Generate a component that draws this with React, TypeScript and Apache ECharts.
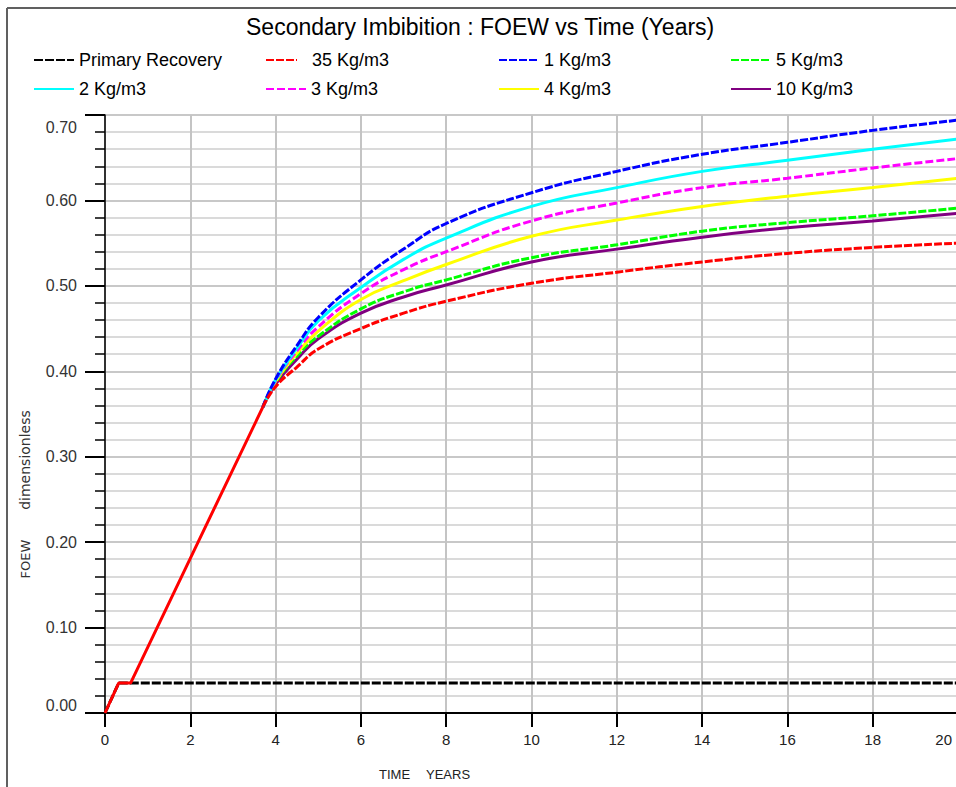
import React, { useEffect, useRef } from "react";
import * as echarts from "echarts";

// ---- data ----
const TITLE = "Secondary Imbibition : FOEW vs Time (Years)";
const X_TICKS = [0, 2, 4, 6, 8, 10, 12, 14, 16, 18, 20];

// shared initial (linear) part, drawn in red for all cases
const BASE_T = [0, 0.32, 0.6, 2, 3.7];
const BASE_V = [0, 0.035, 0.035, 0.181, 0.358];

// primary recovery
const PRIMARY_T = [0, 0.32, 20];
const PRIMARY_V = [0, 0.035, 0.035];

// curves after the break-off point
const CURVE_T = [3.7, 4, 4.5, 5, 6, 7, 8, 10, 12, 14, 16, 18, 20];
const KG1 = [0.358, 0.391, 0.43, 0.463, 0.507, 0.543, 0.573, 0.609, 0.634, 0.654, 0.668, 0.682, 0.694];
const KG2 = [0.358, 0.39, 0.427, 0.459, 0.498, 0.531, 0.556, 0.593, 0.615, 0.634, 0.647, 0.66, 0.672];
const KG3 = [0.358, 0.389, 0.424, 0.452, 0.491, 0.519, 0.54, 0.576, 0.597, 0.615, 0.626, 0.638, 0.649];
const KG4 = [0.358, 0.388, 0.421, 0.447, 0.484, 0.506, 0.525, 0.558, 0.577, 0.593, 0.605, 0.615, 0.626];
const KG5 = [0.358, 0.387, 0.418, 0.441, 0.473, 0.493, 0.507, 0.533, 0.548, 0.564, 0.574, 0.582, 0.591];
const KG10 = [0.358, 0.385, 0.414, 0.438, 0.468, 0.487, 0.501, 0.528, 0.543, 0.557, 0.568, 0.576, 0.585];
const KG35 = [0.358, 0.382, 0.405, 0.426, 0.45, 0.468, 0.482, 0.503, 0.516, 0.528, 0.538, 0.545, 0.55];

const LEGEND_ORDER = [
  "Primary Recovery",
  "35 Kg/m3",
  "1 Kg/m3",
  "5 Kg/m3",
  "2 Kg/m3",
  "3 Kg/m3",
  "4 Kg/m3",
  "10 Kg/m3",
];

const FONT = "'Liberation Sans', Arial, Helvetica, sans-serif";
const NAME_FONT = "'DejaVu Sans', Verdana, sans-serif";

const zip = (xs: number[], ys: number[]) => xs.map((x, i) => [x, ys[i]]);

export default function App() {
  const ref = useRef<HTMLDivElement>(null);

  useEffect(() => {
    if (!ref.current) return;
    const chart = echarts.init(ref.current, undefined, { renderer: "svg" });

    const curve = (name: string, vals: number[], color: string, dash: any) => ({
      name,
      type: "line",
      data: zip(CURVE_T, vals),
      smooth: 0.5,
      symbol: "none",
      showSymbol: false,
      lineStyle: { color, width: 3, type: dash },
      itemStyle: { color },
    });

    const series: any[] = [
      {
        name: "Primary Recovery",
        type: "line",
        data: zip(PRIMARY_T, PRIMARY_V),
        symbol: "none",
        lineStyle: { color: "#000000", width: 3, type: [9, 2] },
        itemStyle: { color: "#000000" },
      },
      curve("10 Kg/m3", KG10, "#800080", "solid"),
      curve("5 Kg/m3", KG5, "#00ff00", [8, 2]),
      curve("4 Kg/m3", KG4, "#ffff00", "solid"),
      curve("3 Kg/m3", KG3, "#ff00ff", [8, 3]),
      curve("2 Kg/m3", KG2, "#00ffff", "solid"),
      curve("1 Kg/m3", KG1, "#0000ff", [8, 2]),
      curve("35 Kg/m3", KG35, "#ff0000", [8, 2]),
      {
        name: "base",
        type: "line",
        data: zip(BASE_T, BASE_V),
        symbol: "none",
        lineStyle: { color: "#ff0000", width: 3, type: "solid" },
        itemStyle: { color: "#ff0000" },
      },
    ];

    const legendPos = [
      [33, 51], [265, 51], [498, 51], [730, 51],
      [33, 80], [265, 80], [498, 80], [730, 80],
    ];

    const legends = LEGEND_ORDER.map((name, i) => ({
      data: [name],
      left: legendPos[i][0],
      top: legendPos[i][1],
      padding: 0,
      itemWidth: name === "35 Kg/m3" ? 31 : 40,
      itemHeight: 14,
      selectedMode: false,
      itemStyle: { opacity: 0 },
      textStyle: {
        fontSize: 18,
        fontFamily: FONT,
        color: "#000",
        padding: name === "35 Kg/m3" ? [0, 0, 0, 10] : 0,
      },
    }));

    chart.setOption({
      animation: false,
      backgroundColor: "#ffffff",
      title: {
        text: TITLE,
        left: 246,
        top: 15,
        padding: 0,
        textStyle: { fontSize: 23, fontWeight: "normal", fontFamily: FONT, color: "#000" },
      },
      legend: legends,
      grid: {
        left: 105,
        top: 115,
        width: 853,
        height: 598,
        containLabel: false,
        outerBoundsMode: "none",
      },
      xAxis: {
        type: "value",
        min: 0,
        max: 20,
        interval: 2,
        axisLine: { show: true, onZero: false, lineStyle: { color: "#000", width: 2 } },
        axisTick: { show: true, length: 14, lineStyle: { color: "#000", width: 2 } },
        axisLabel: {
          margin: 19,
          fontSize: 15,
          fontFamily: FONT,
          color: "#222",
          alignMaxLabel: "right",
          formatter: (v: number) => (X_TICKS.includes(v) ? String(v) : ""),
          rich: {},
        },
        splitLine: { show: true, lineStyle: { color: "#c4c4c4", width: 2 } },
      },
      yAxis: {
        type: "value",
        min: 0,
        max: 0.7,
        interval: 0.1,
        axisLine: { show: true, onZero: false, lineStyle: { color: "#000", width: 1.5 } },
        axisTick: { show: true, length: 20, lineStyle: { color: "#000", width: 2 } },
        minorTick: { show: true, splitNumber: 5, length: 10, lineStyle: { color: "#000", width: 1.5 } },
        axisLabel: {
          margin: 28,
          fontSize: 16,
          fontFamily: FONT,
          color: "#333",
          padding: [4, 0, 0, 0],
          verticalAlignMaxLabel: "top",
          verticalAlignMinLabel: "bottom",
          formatter: (v: number) => v.toFixed(2),
        },
        splitLine: { show: true, lineStyle: { color: "#c8c8c8", width: 2 } },
        minorSplitLine: { show: true, lineStyle: { color: "#dadada", width: 2 } },
      },
      series,
      graphic: [
        { type: "line", shape: { x1: 7, y1: 8, x2: 956, y2: 8 }, style: { stroke: "#606060", lineWidth: 2 }, z: 100 },
        { type: "line", shape: { x1: 7, y1: 8, x2: 7, y2: 787 }, style: { stroke: "#606060", lineWidth: 2 }, z: 100 },
        {
          type: "text",
          x: 25,
          y: 559,
          rotation: Math.PI / 2,
          style: { text: "FOEW", fontSize: 13, fontFamily: NAME_FONT, fill: "#333", align: "center", verticalAlign: "middle" },
        },
        {
          type: "text",
          x: 25,
          y: 460,
          rotation: Math.PI / 2,
          style: { text: "dimensionless", fontSize: 14, fontFamily: NAME_FONT, fill: "#333", align: "center", verticalAlign: "middle" },
        },
        {
          type: "text",
          x: 379,
          y: 774,
          style: { text: "TIME", fontSize: 13, fontFamily: FONT, fill: "#222", align: "left", verticalAlign: "middle" },
        },
        {
          type: "text",
          x: 426,
          y: 774,
          style: { text: "YEARS", fontSize: 13, fontFamily: FONT, fill: "#222", align: "left", verticalAlign: "middle" },
        },
      ],
    });

    // keep the last tick label ("20") inside the visible page
    chart.setOption({
      xAxis: {
        axisLabel: {
          formatter: (v: number) => (X_TICKS.includes(v) ? (v === 20 ? "{e|20}" : String(v)) : ""),
          rich: { e: { padding: [0, 6, 0, 0], fontSize: 15, fontFamily: FONT, color: "#222" } },
        },
      },
    });

    return () => chart.dispose();
  }, []);

  return (
    <div
      ref={ref}
      style={{ position: "absolute", left: 0, top: 0, width: 956, height: 787, overflow: "hidden", background: "#fff" }}
    />
  );
}
